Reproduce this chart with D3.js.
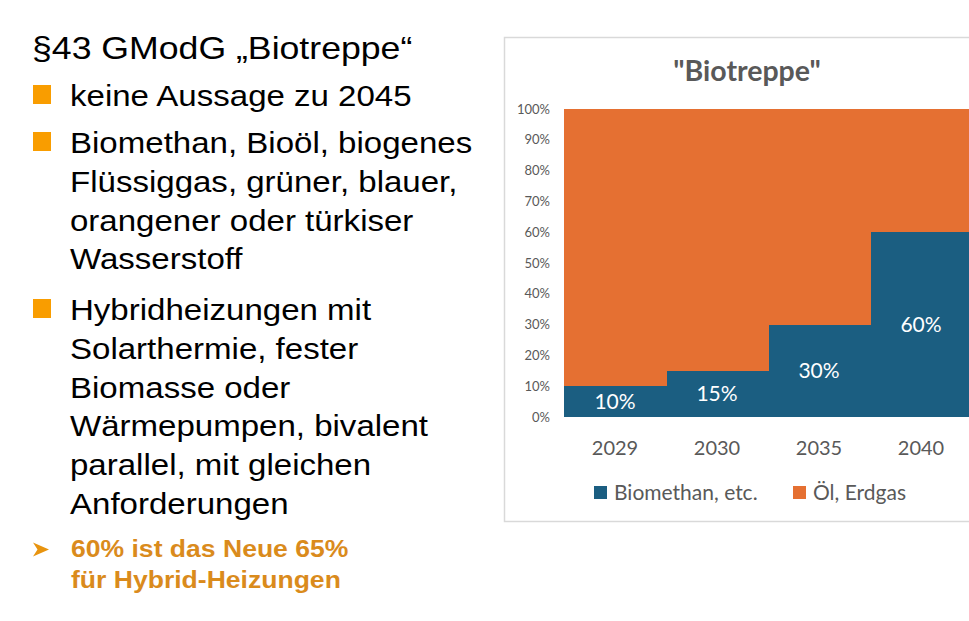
<!DOCTYPE html>
<html>
<head>
<meta charset="utf-8">
<script src="https://cdn.jsdelivr.net/npm/d3@7"></script>
<style>
  html, body { margin: 0; padding: 0; background: #fff; overflow: hidden; }
  svg { display: block; }
</style>
</head>
<body>
<svg id="slide" width="969" height="621"></svg>
<script>
// chart data
const years = ["2029", "2030", "2035", "2040"];
const bioShare = [10, 15, 30, 60];   // Biomethan, etc.
const oilShare = [90, 85, 70, 40];   // Öl, Erdgas
const seriesNames = ["Biomethan, etc.", "Öl, Erdgas"];
const yTicks = [0, 10, 20, 30, 40, 50, 60, 70, 80, 90, 100];

// slide text
const slideTitle = "§43 GModG „Biotreppe“";
const bulletLines = [
  ["keine Aussage zu 2045"],
  ["Biomethan, Bioöl, biogenes", "Flüssiggas, grüner, blauer,", "orangener oder türkiser", "Wasserstoff"],
  ["Hybridheizungen mit", "Solarthermie, fester", "Biomasse oder", "Wärmepumpen, bivalent", "parallel, mit gleichen", "Anforderungen"]
];
const noteLines = ["60% ist das Neue 65%", "für Hybrid-Heizungen"];

const svg = d3.select("#slide");
const sx = 1.12; // slide photo is a bit wider than tall

// ---- left text block ----
const left = svg.append("g").attr("class", "left");

left.append("text")
  .attr("transform", `translate(32,59) scale(1.15,1)`)
  .attr("font-family", "Liberation Sans, Arial, sans-serif")
  .attr("font-size", 31)
  .attr("fill", "#000")
  .text(slideTitle);

const bulletTops = [106, 153, 320];
const lineStep = 38.8;
bulletLines.forEach((lines, i) => {
  const base = bulletTops[i];
  left.append("rect")
    .attr("x", 33).attr("y", base - 21)
    .attr("width", 18).attr("height", 19)
    .attr("fill", "#F99D00");
  lines.forEach((t, j) => {
    left.append("text")
      .attr("transform", `translate(70,${base + j * lineStep}) scale(${sx},1)`)
      .attr("font-family", "Liberation Sans, Arial, sans-serif")
      .attr("font-size", 29.5)
      .attr("fill", "#000")
      .text(t);
  });
});

// arrow bullet
left.append("path")
  .attr("d", "M33,542.5 L49,549.5 L33,556.5 L37.5,549.5 Z")
  .attr("fill", "#E8940F");

noteLines.forEach((t, j) => {
  left.append("text")
    .attr("transform", `translate(71,${557 + j * 31}) scale(1.13,1)`)
    .attr("font-family", "Liberation Sans, Arial, sans-serif")
    .attr("font-size", 23.5)
    .attr("font-weight", "bold")
    .attr("fill", "#DA8B1C")
    .text(t);
});

// ---- chart ----
const chart = svg.append("g").attr("class", "chart");

chart.append("rect")
  .attr("x", 504.5).attr("y", 37.5)
  .attr("width", 486).attr("height", 484)
  .attr("fill", "#fff")
  .attr("stroke", "#D9D9D9")
  .attr("stroke-width", 1.5);

chart.append("text")
  .attr("x", 747).attr("y", 81)
  .attr("text-anchor", "middle")
  .attr("font-family", "Lato, sans-serif")
  .attr("font-weight", "bold")
  .attr("font-size", 28.5)
  .attr("fill", "#595959")
  .text("\"Biotreppe\"");

const plot = { left: 564, right: 972, top: 109, bottom: 417 };

const x = d3.scaleBand()
  .domain(years)
  .range([plot.left, plot.right])
  .paddingInner(0)
  .paddingOuter(0);

const y = d3.scaleLinear()
  .domain([0, 100])
  .range([plot.bottom, plot.top]);

const rows = years.map((yr, i) => ({ year: yr, bio: bioShare[i], oil: oilShare[i] }));
const stack = d3.stack().keys(["bio", "oil"]);
const layers = stack(rows);
const colors = { bio: "#1B5E81", oil: "#E57032" };

chart.selectAll("g.layer")
  .data(layers)
  .enter().append("g")
  .attr("class", "layer")
  .attr("fill", d => colors[d.key])
  .selectAll("rect")
  .data(d => d)
  .enter().append("rect")
  .attr("x", d => x(d.data.year))
  .attr("width", x.bandwidth() + 0.5)
  .attr("y", d => y(d[1]))
  .attr("height", d => y(d[0]) - y(d[1]))
  .attr("shape-rendering", "crispEdges");

// data labels centred in the blue part
chart.append("g")
  .selectAll("text")
  .data(layers[0])
  .enter().append("text")
  .attr("x", d => x(d.data.year) + x.bandwidth() / 2)
  .attr("y", d => y((d[0] + d[1]) / 2))
  .attr("dy", "0.36em")
  .attr("text-anchor", "middle")
  .attr("font-family", "Lato, sans-serif")
  .attr("font-size", 21)
  .attr("fill", "#fff")
  .text(d => d.data.bio + "%");

// y axis
const yAxis = chart.append("g")
  .attr("transform", `translate(${plot.left - 14},0)`)
  .call(d3.axisLeft(y).tickValues(yTicks).tickSize(0).tickPadding(0).tickFormat(d => d + "%"));
yAxis.select(".domain").remove();
yAxis.selectAll("text")
  .attr("font-family", "Lato, sans-serif")
  .attr("font-size", 13)
  .attr("fill", "#595959");

// x axis
const xAxis = chart.append("g")
  .attr("transform", `translate(0,${plot.bottom})`)
  .call(d3.axisBottom(x).tickSize(0).tickPadding(24));
xAxis.select(".domain").remove();
xAxis.selectAll("text")
  .attr("font-family", "Lato, sans-serif")
  .attr("font-size", 20)
  .attr("fill", "#595959");

// legend
const legendX = [594, 793];
const legend = chart.append("g")
  .selectAll("g")
  .data(seriesNames)
  .enter().append("g")
  .attr("transform", (d, i) => `translate(${legendX[i]},486)`);
legend.append("rect")
  .attr("width", 13).attr("height", 13)
  .attr("fill", (d, i) => i === 0 ? colors.bio : colors.oil);
legend.append("text")
  .attr("x", 20).attr("y", 13.5)
  .attr("font-family", "Lato, sans-serif")
  .attr("font-size", 21)
  .attr("fill", "#595959")
  .text(d => d);
</script>
</body>
</html>
